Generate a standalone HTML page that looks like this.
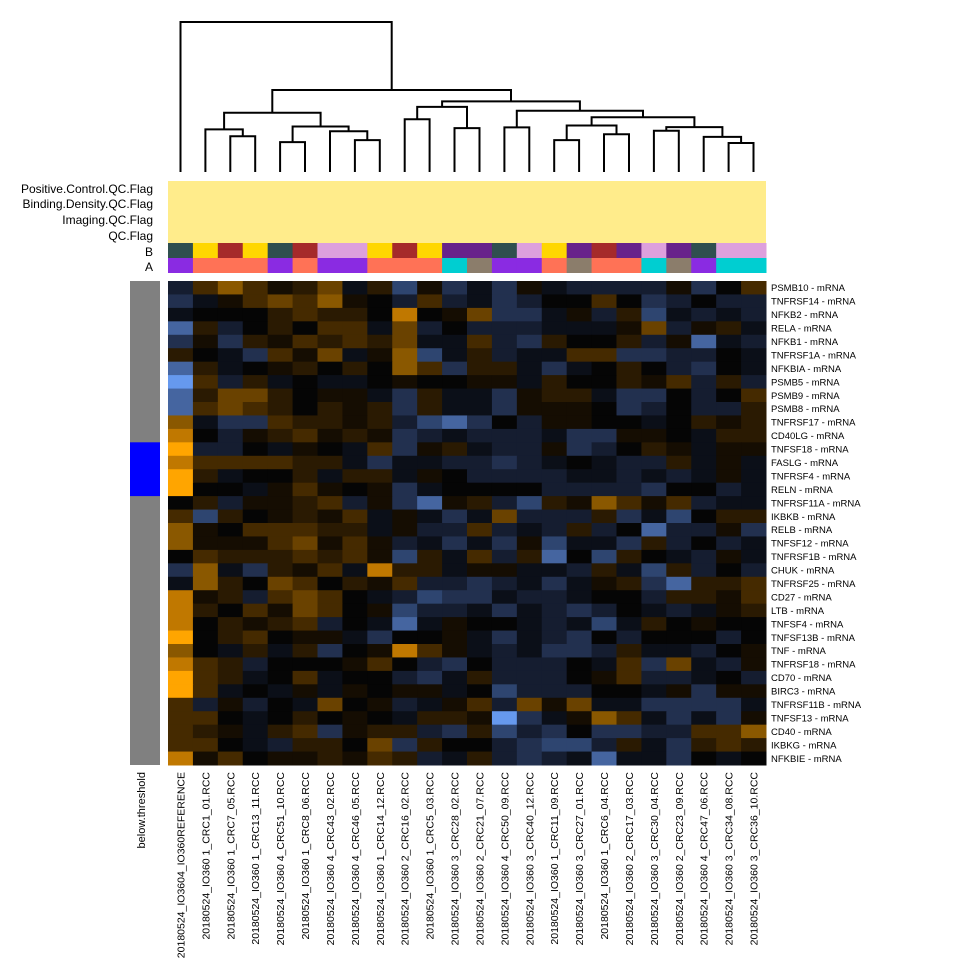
<!DOCTYPE html>
<html><head><meta charset="utf-8"><style>
html,body{margin:0;padding:0;background:#fff;}
svg{display:block;font-family:"Liberation Sans",Arial,sans-serif;}
</style></head><body>
<svg id="s" width="960" height="960" xmlns="http://www.w3.org/2000/svg"></svg>
<script>
var S=document.getElementById('s');var h='';
var X0=168,X1=766,N=24,CW=(X1-X0)/N,Y0=281,Y1=765,R=36,RH=(Y1-Y0)/R;
function cx(i){return X0+CW*(i+0.5);}
var pal={k:'#050505',n:'#0b0f18',m:'#151d30',b:'#22304f',B:'#2e4570',L:'#4565a0',X:'#6699ee',
w:'#150d02',o:'#2a1a02',p:'#452a00',O:'#6a4200',Q:'#8a5800',Y:'#c07800',Z:'#ffa500'};
var L=[
"mpQpwoOnoBwb"+"nbwnmmmmwbkp",
"bnwpOpQwkmpm"+"nbmkkpkbmkmm",
"nkkkopookYkw"+"ObbnwmoBnmnm",
"LomkokppnOmk"+"mmmnnnwOmwon",
"bwbowpopoOnn".slice(0,12)+"pmbokkomwLnm",
"oknbpwOnwQBn"+"omnnppbbmmkn",
"LonkwokokQpb"+"oonbnkokmbkn",
"Xpmonknnkwkk"+"wwnokkowpmom",
"LoOOokwwnbon"+"nbwoonbbkmkp",
"LpOpokowobon"+"nbwwwkbmkmmo",
"QnbbpoowomBL"+"bkmwwkknkowo",
"Ykmwopwowbmn"+"mmmnbbwwknoo",
"Zmmknwknpbwo"+"nmmwbmkownww",
"Yppppoonbnnmb".slice(0,12)+"mbmnknmmonwn",
"Zonkkonoonwk"+"mmmmnnmnmnwn",
"Zkknwpwkwbnk"+"kkkmmmmbkkmn",
"komwwopmwbLw"+"omBowQpwpmnn",
"pBokwowpnwnb"+"nOmmmobnBkoo",
"Qwkpppoonwmm"+"pmnmomkLmmwb",
"QwwwpOwpwmnb"+"nbwBnnbomkmn",
"kpooopopwBon"+"pmoLkBoknmwn",
"bQnbowpnYoon"+"wwnnmonBomkm",
"nQokOpkowpmm"+"bmnbnwobLoop",
"YwompOpknmBb"+"bnmmnkkmoowp",
"YokpwOpkwBmm"+"nbnmbmknmnwo",
"YkowopmknLnw"+"kknmnBnokwkk",
"Zkopkwwnbkkw"+"nbnmbkmkkkmk",
"QknonobkwYpw"+"nmnbbmonnmkw",
"Ypomkkkwpkmb"+"kmmmknpbOnmw",
"Zponkpnkkmbn"+"ommmkwpmmnkm",
"Zpnknwnwkwwn"+"kBmmmkknwbww",
"pmwmknOkwmnw"+"pmOwOnnbbbbn",
"ppknkokwknoo"+"wXbnwQpnbnbw",
"pownopbwoomb"+"oBmbkbbmmppQ",
"ppknmookObok"+"kmbBBmonbopo",
"YwpkwwowpomN".slice(0,11)+"n"+"ombmnLnnbknk"];
for(var r=0;r<R;r++){var s=L[r];for(var c=0;c<N;c++){var ch=s[c]||'n';
h+='<rect x="'+(X0+c*CW).toFixed(2)+'" y="'+(Y0+r*RH).toFixed(2)+'" width="'+(CW+0.5).toFixed(2)+'" height="'+(RH+0.5).toFixed(2)+'" fill="'+(pal[ch]||'#0b0f18')+'"/>';}}
// annotations
h+='<rect x="'+X0+'" y="181" width="'+(X1-X0)+'" height="62" fill="#FFEC8B"/>';
var bc={T:'#2F4F4F',G:'#FFD700',R:'#A52A2A',P:'#DDA0DD',U:'#68228B'};
var ac={V:'#8A2BE2',C:'#FF7256',Y:'#00CED1',G:'#8B7D6B'};
var B="TGRGTRPPGRGUUTPGURUPUTPP",A="VCCCVCVVCCCYGVVCGCCYGVYY";
for(var c=0;c<N;c++){h+='<rect x="'+(X0+c*CW).toFixed(2)+'" y="243" width="'+(CW+0.5).toFixed(2)+'" height="15" fill="'+bc[B[c]]+'"/>';
h+='<rect x="'+(X0+c*CW).toFixed(2)+'" y="258" width="'+(CW+0.5).toFixed(2)+'" height="15" fill="'+ac[A[c]]+'"/>';}
var fl=[["Positive.Control.QC.Flag",193],["Binding.Density.QC.Flag",208],["Imaging.QC.Flag",224],["QC.Flag",240],["B",256],["A",271]];
fl.forEach(function(f){h+='<text x="153" y="'+f[1]+'" font-size="12" text-anchor="end">'+f[0]+'</text>';});
// left bar
h+='<rect x="130" y="'+Y0+'" width="30" height="'+(Y1-Y0)+'" fill="#808080"/>';
h+='<rect x="130" y="'+(Y0+12*RH).toFixed(1)+'" width="30" height="'+(4*RH).toFixed(1)+'" fill="#0000FF"/>';
// row labels
var rl=["PSMB10","TNFRSF14","NFKB2","RELA","NFKB1","TNFRSF1A","NFKBIA","PSMB5","PSMB9","PSMB8","TNFRSF17","CD40LG","TNFSF18","FASLG","TNFRSF4","RELN","TNFRSF11A","IKBKB","RELB","TNFSF12","TNFRSF1B","CHUK","TNFRSF25","CD27","LTB","TNFSF4","TNFSF13B","TNF","TNFRSF18","CD70","BIRC3","TNFRSF11B","TNFSF13","CD40","IKBKG","NFKBIE"];
rl.forEach(function(t,i){h+='<text x="771" y="'+(Y0+RH*(i+0.5)+3.5).toFixed(1)+'" font-size="9.5">'+t+' - mRNA</text>';});
// col labels
var cl=["20180524_IO3604_IO360REFERENCE","20180524_IO360 1_CRC1_01.RCC","20180524_IO360 1_CRC7_05.RCC","20180524_IO360 1_CRC13_11.RCC","20180524_IO360 4_CRC51_10.RCC","20180524_IO360 1_CRC8_06.RCC","20180524_IO360 4_CRC43_02.RCC","20180524_IO360 4_CRC46_05.RCC","20180524_IO360 1_CRC14_12.RCC","20180524_IO360 2_CRC16_02.RCC","20180524_IO360 1_CRC5_03.RCC","20180524_IO360 3_CRC28_02.RCC","20180524_IO360 2_CRC21_07.RCC","20180524_IO360 4_CRC50_09.RCC","20180524_IO360 3_CRC40_12.RCC","20180524_IO360 1_CRC11_09.RCC","20180524_IO360 3_CRC27_01.RCC","20180524_IO360 1_CRC6_04.RCC","20180524_IO360 2_CRC17_03.RCC","20180524_IO360 3_CRC30_04.RCC","20180524_IO360 2_CRC23_09.RCC","20180524_IO360 4_CRC47_06.RCC","20180524_IO360 3_CRC34_08.RCC","20180524_IO360 3_CRC36_10.RCC"];
cl.forEach(function(t,i){var x=cx(i)+4;h+='<text transform="translate('+x.toFixed(1)+',772) rotate(-90)" font-size="10.5" text-anchor="end">'+t+'</text>';});
h+='<text transform="translate(145,772) rotate(-90)" font-size="11" text-anchor="end">below.threshold</text>';
// dendrogram
function Y(p){return 22+(p-32)*0.3254;}
var LB=Y(493);
function leaf(i){return {x:cx(i),y:LB};}
function nd(a,b,p){var y=Y(p);h+='<path d="M'+a.x.toFixed(1)+' '+a.y.toFixed(1)+'V'+y.toFixed(1)+'H'+b.x.toFixed(1)+'V'+b.y.toFixed(1)+'" fill="none" stroke="#000" stroke-width="2"/>';return {x:(a.x+b.x)/2,y:y};}
var l1=nd(leaf(1),nd(leaf(2),leaf(3),383),362);
var l2=nd(nd(leaf(4),leaf(5),401),nd(leaf(6),nd(leaf(7),leaf(8),395),368),353);
var left=nd(l1,l2,311);
var r1=nd(nd(leaf(9),leaf(10),331),nd(leaf(11),leaf(12),358),293);
var r2a=nd(leaf(13),leaf(14),356);
var r2b1=nd(nd(leaf(15),leaf(16),395),nd(leaf(17),leaf(18),377),350);
var r2b2=nd(nd(leaf(19),leaf(20),366),nd(leaf(21),nd(leaf(22),leaf(23),404),385),355);
var r2=nd(r2a,nd(r2b1,r2b2,325),305);
var right=nd(r1,r2,276);
var big=nd(left,right,241);
nd(leaf(0),big,32);
S.innerHTML=h;
</script>
</body></html>
